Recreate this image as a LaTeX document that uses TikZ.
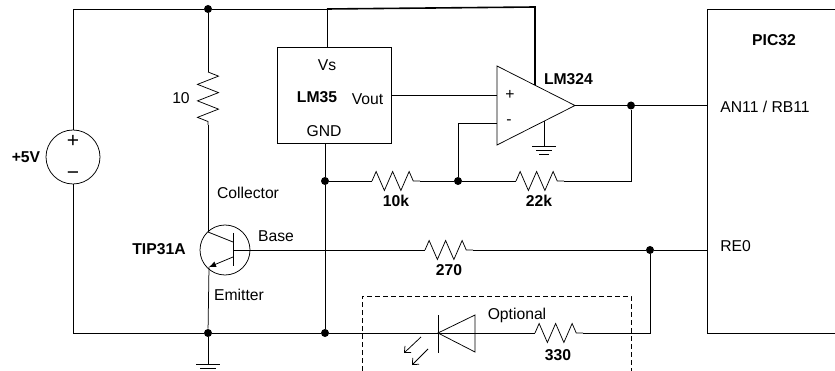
\documentclass[tikz,border=0pt]{standalone}
\usepackage{fontspec}
\setmainfont{Liberation Sans}
\usetikzlibrary{arrows.meta,positioning,decorations.pathmorphing}
\tikzset{
  lbl/.style={inner sep=0pt, font=\fontsize{15.7}{18}\selectfont},
  blbl/.style={inner sep=0pt, font=\fontsize{15.7}{18}\selectfont\bfseries},
  pol/.style={inner sep=0pt, font=\fontsize{21}{22}\selectfont},
  dot/.style={circle, fill=black, inner sep=0pt, minimum size=8pt},
  res/.style={decorate, decoration={zigzag, segment length=16.5pt, amplitude=9.5pt}},
  gnd/.pic={
    \draw (-12,0) -- (12,0);
    \draw (-8,4) -- (8,4);
    \draw (-5,8) -- (5,8);
  }
}
\begin{document}
\begin{tikzpicture}[x=1pt, y=-1pt, line width=0.75pt]
\useasboundingbox (0,0) rectangle (835,371);

\node[circle, draw, inner sep=0pt, minimum size=54pt] (src) at (73,157) {};
\node[pol] (srcp) at (73,141) {+};
\node[pol] (srcm) at (73,176) {\textminus};
\node[blbl] (srcv) at (26,157) {+5V};

\node[dot] (top) at (208,9) {};
\coordinate (topl) at (73,9);
\coordinate (topm) at (327,9);
\coordinate (topr) at (535,7);
\coordinate (r1a) at (208,72);
\coordinate (r1b) at (208,125);
\node[lbl] (r1t) at (181,98) {10};

\node[draw, minimum width=114pt, minimum height=96pt, inner sep=0pt] (lm35) at (334,95) {};
\node[lbl] (vs) at (327,65) {Vs};
\node[blbl] (lm35t) at (317,97) {LM35};
\node[lbl] (vout) at (367.5,99) {Vout};
\node[lbl] (gnd35) at (324,131) {GND};

\coordinate (oa1) at (497,66);
\coordinate (oa2) at (497,145);
\coordinate (oa3) at (575,105.5);
\coordinate (oap) at (497,95);
\coordinate (oam) at (497,123);
\coordinate (oav) at (535,85);
\coordinate (oag) at (544,121);
\coordinate (g2) at (544,146.5);
\node[lbl] (plus) at (510,95) {+};
\node[lbl] (minus) at (509,122) {-};
\node[blbl] (lm324) at (568.5,79) {LM324};

\node[dot] (d1) at (325,181) {};
\node[dot] (d2) at (458,181) {};
\node[dot] (d3) at (631,105.5) {};
\coordinate (c3) at (631,181);
\coordinate (r2a) at (372,181);
\coordinate (r2b) at (420,181);
\coordinate (r3a) at (516,181);
\coordinate (r3b) at (564,181);
\node[blbl] (r2t) at (396,201) {10k};
\node[blbl] (r3t) at (539,201) {22k};

\node[draw, minimum width=200pt, minimum height=324pt, inner sep=0pt] (picbox) at (807,171) {};
\node[blbl] (pict) at (774,40) {PIC32};
\node[lbl, anchor=west] (an11) at (720,107) {AN11 / RB11};
\node[lbl, anchor=west] (re0) at (720,246) {RE0};
\coordinate (pa) at (707,105.5);
\coordinate (pb) at (707,250);

\node[circle, draw, inner sep=0pt, minimum size=50pt] (q) at (225,250) {};
\coordinate (qb) at (233,250);
\coordinate (qbt) at (233,233);
\coordinate (qbb) at (233,266);
\coordinate (qc) at (208,232);
\coordinate (qci) at (233,242);
\coordinate (qe) at (209,267);
\coordinate (qei) at (233,257);
\node[blbl] (qt) at (159,249) {TIP31A};
\node[lbl] (qct) at (248,193) {Collector};
\node[lbl] (qbl) at (276,236) {Base};
\node[lbl] (qet) at (239,295) {Emitter};

\coordinate (r4a) at (425,250);
\coordinate (r4b) at (473,250);
\node[blbl] (r4t) at (449,270) {270};
\node[dot] (d4) at (650,250) {};

\node[dot] (d5) at (208,333) {};
\node[dot] (d6) at (325,333) {};
\coordinate (botl) at (73,333);
\coordinate (g1) at (208,364);

\coordinate (la) at (438,333);
\coordinate (lt) at (438,315);
\coordinate (lb) at (438,353);
\coordinate (lc) at (475,333);
\coordinate (lc1) at (475,315);
\coordinate (lc2) at (475,352);
\coordinate (r5a) at (535,333);
\coordinate (r5b) at (583,333);
\coordinate (c4) at (650,333);
\node[lbl] (opt) at (517,315) {Optional};
\node[blbl] (r5t) at (558,355) {330};

\coordinate (b1) at (362,371);
\coordinate (b2) at (362,296);
\coordinate (b3) at (631,296);
\coordinate (b4) at (631,371);
\coordinate (e1a) at (421,337);
\coordinate (e1b) at (404,353);
\coordinate (e2a) at (428,349);
\coordinate (e2b) at (412,365);

\draw (src) -- (topl) -- (top) -- (topm);
\draw[line width=1.6pt] (topm) -- (topr) -- (oav);
\draw (top) -- (r1a);
\draw[res, decoration={amplitude=10.5pt}] (r1a) -- (r1b);
\draw (r1b) -- (qc);
\draw (topm) -- (topm |- lm35.north);
\draw (src) -- (botl) -- (d5) -- (d6) -- (la);
\draw (d5) -- (qe);
\draw (d5) -- (g1);
\pic at (g1) {gnd};

\draw (oa1) -- (oa2) -- (oa3) -- cycle;
\draw (lm35.east |- oap) -- (oap);
\draw (oam) -- (d2 |- oam) -- (d2);
\draw (oag) -- (g2);
\pic at (g2) {gnd};
\draw (oa3) -- (d3) -- (pa);
\draw (d3) -- (c3) -- (r3b);
\draw[res] (r3a) -- (r3b);
\draw (r3a) -- (d2) -- (r2b);
\draw[res] (r2a) -- (r2b);
\draw (r2a) -- (d1);
\draw (d1 |- lm35.south) -- (d1) -- (d6);

\draw (qbt) -- (qbb);
\draw (qc) -- (qci);
\draw[-{Latex[length=7pt,width=6pt]}] (qei) -- (qe);
\draw (qb) -- (r4a);
\draw[res] (r4a) -- (r4b);
\draw (r4b) -- (d4) -- (pb);

\draw (la) -- (lc);
\draw (lt) -- (lb);
\draw (lc1) -- (lc2) -- (la) -- cycle;
\draw (lc) -- (r5a);
\draw[res] (r5a) -- (r5b);
\draw (r5b) -- (c4) -- (d4);
\draw[-{Straight Barb[length=5pt,width=9pt]}] (e1a) -- (e1b);
\draw[-{Straight Barb[length=5pt,width=9pt]}] (e2a) -- (e2b);
\draw[dashed, dash pattern=on 5pt off 3pt] (b1) -- (b2) -- (b3) -- (b4);
\end{tikzpicture}
\end{document}
